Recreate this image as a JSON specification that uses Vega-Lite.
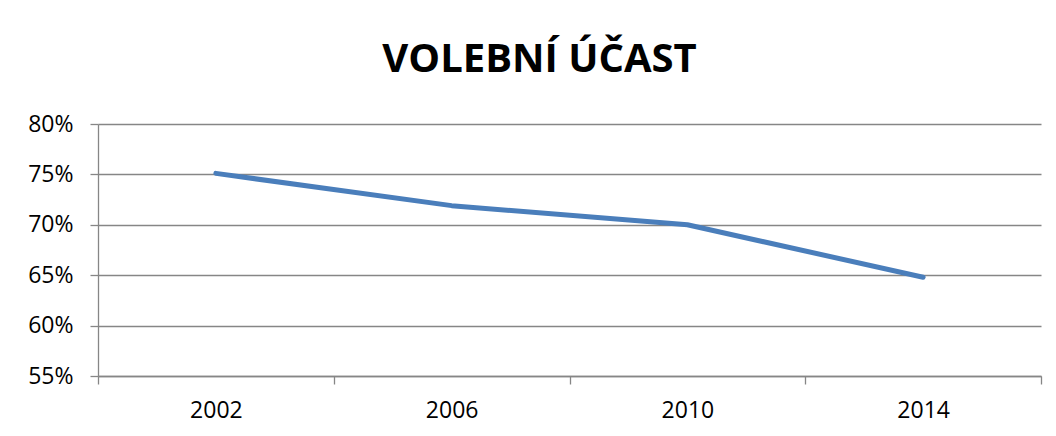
{
  "$schema": "https://vega.github.io/schema/vega-lite/v6.json",
  "autosize": "none",
  "width": 943,
  "height": 252,
  "padding": {"left": 98, "top": 124, "right": 15, "bottom": 60},
  "background": "white",
  "title": {
    "text": "VOLEBNÍ ÚČAST",
    "font": "Open Sans",
    "fontSize": 40,
    "fontWeight": "bold",
    "color": "black",
    "anchor": "middle",
    "frame": "group",
    "dx": -30,
    "offset": 33
  },
  "data": {
    "values": [
      {"rok": "2002", "ucast": 0.751},
      {"rok": "2006", "ucast": 0.719},
      {"rok": "2010", "ucast": 0.700},
      {"rok": "2014", "ucast": 0.648}
    ]
  },
  "mark": {"type": "line", "color": "#4A7EBB", "strokeWidth": 5, "strokeCap": "round", "strokeJoin": "round"},
  "encoding": {
    "x": {
      "field": "rok",
      "type": "ordinal",
      "scale": {"type": "band", "paddingInner": 0, "paddingOuter": 0},
      "axis": {
        "title": null,
        "labelAngle": 0,
        "tickBand": "extent",
        "grid": false,
        "domainColor": "#868686",
        "domainWidth": 1.3,
        "tickColor": "#868686",
        "tickWidth": 1.3,
        "tickSize": 8,
        "labelPadding": 15,
        "labelFont": "Open Sans",
        "labelFontSize": 23,
        "labelColor": "black"
      }
    },
    "y": {
      "field": "ucast",
      "type": "quantitative",
      "scale": {"domain": [0.55, 0.8], "nice": false, "zero": false},
      "axis": {
        "title": null,
        "values": [0.55, 0.6, 0.65, 0.7, 0.75, 0.8],
        "format": ".0%",
        "grid": true,
        "gridColor": "#868686",
        "gridWidth": 1.3,
        "domainColor": "#868686",
        "domainWidth": 1.3,
        "tickColor": "#868686",
        "tickWidth": 1.3,
        "tickSize": 8,
        "labelPadding": 17,
        "labelFont": "Open Sans",
        "labelFontSize": 23,
        "labelColor": "black"
      }
    }
  },
  "config": {"view": {"stroke": null}}
}
